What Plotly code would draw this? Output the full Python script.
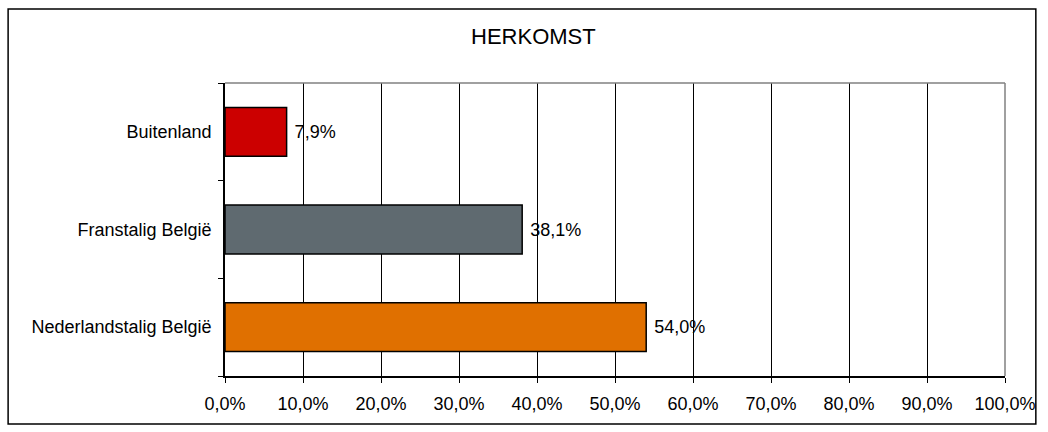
import plotly.graph_objects as go

# data (bottom to top, as plotly draws horizontal bars)
categories = ["Nederlandstalig België", "Franstalig België", "Buitenland"]
shares = [54.0, 38.1, 7.9]
bar_colors = ["#E07000", "#5F6A70", "#CC0000"]
tick_vals = [0, 10, 20, 30, 40, 50, 60, 70, 80, 90, 100]
tick_text = [f"{v:.1f}%".replace(".", ",") for v in tick_vals]

W, H = 1048, 432
ml, mr, mt, mb = 225, 39, 83, 56
pw, ph = W - ml - mr, H - mt - mb

fig = go.Figure()

fig.add_trace(go.Bar(
    x=shares,
    y=categories,
    orientation="h",
    marker=dict(color=bar_colors, line=dict(color="black", width=1.5)),
    texttemplate=" %{x:.1f}%",
    textposition="outside",
    textfont=dict(color="black", size=18),
    cliponaxis=False,
    hoverinfo="skip",
))

# outer frame of the chart, in paper coords
def px_x(p):
    return (p - ml) / pw

def px_y(p):
    return 1 - (p - mt) / ph

fig.add_shape(type="rect", xref="paper", yref="paper",
              x0=px_x(7), x1=px_x(1040), y0=px_y(424), y1=px_y(9),
              line=dict(color="black", width=1.5), layer="below")
# gray top / right border of the plot area
fig.add_shape(type="line", xref="paper", yref="paper",
              x0=0, x1=1, y0=1, y1=1, line=dict(color="#808080", width=1.5))
fig.add_shape(type="line", xref="paper", yref="paper",
              x0=1, x1=1, y0=0, y1=1, line=dict(color="#808080", width=1.5))

fig.update_layout(
    width=W, height=H,
    margin=dict(l=ml, r=mr, t=mt, b=mb),
    paper_bgcolor="white",
    plot_bgcolor="white",
    separators=",.",
    showlegend=False,
    bargap=0.5,
    font=dict(family="Liberation Sans, Arial, sans-serif", size=18, color="black"),
    title=dict(text="HERKOMST", x=px_x(535), xref="paper", xanchor="center",
               y=1 - 36 / H, yanchor="middle", font=dict(size=22, color="black")),
)

fig.update_xaxes(
    range=[0, 100],
    tickvals=tick_vals,
    ticktext=tick_text,
    showgrid=True,
    gridcolor="black",
    gridwidth=1,
    showline=True,
    linecolor="black",
    linewidth=1.5,
    ticks="outside",
    ticklen=5,
    tickcolor="black",
    ticklabelstandoff=6,
    zeroline=False,
)

fig.update_yaxes(
    showline=True,
    linecolor="black",
    linewidth=1.5,
    ticks="outside",
    tickson="boundaries",
    ticklen=5,
    tickcolor="black",
    ticklabelstandoff=8,
    showgrid=False,
)

# drop the default 8px page margin so the figure sits at the window corner
fig.write_html("out.html",
               config={"displayModeBar": False},
               post_script="document.body.style.margin='0';"
                           "document.body.style.overflow='hidden';")
